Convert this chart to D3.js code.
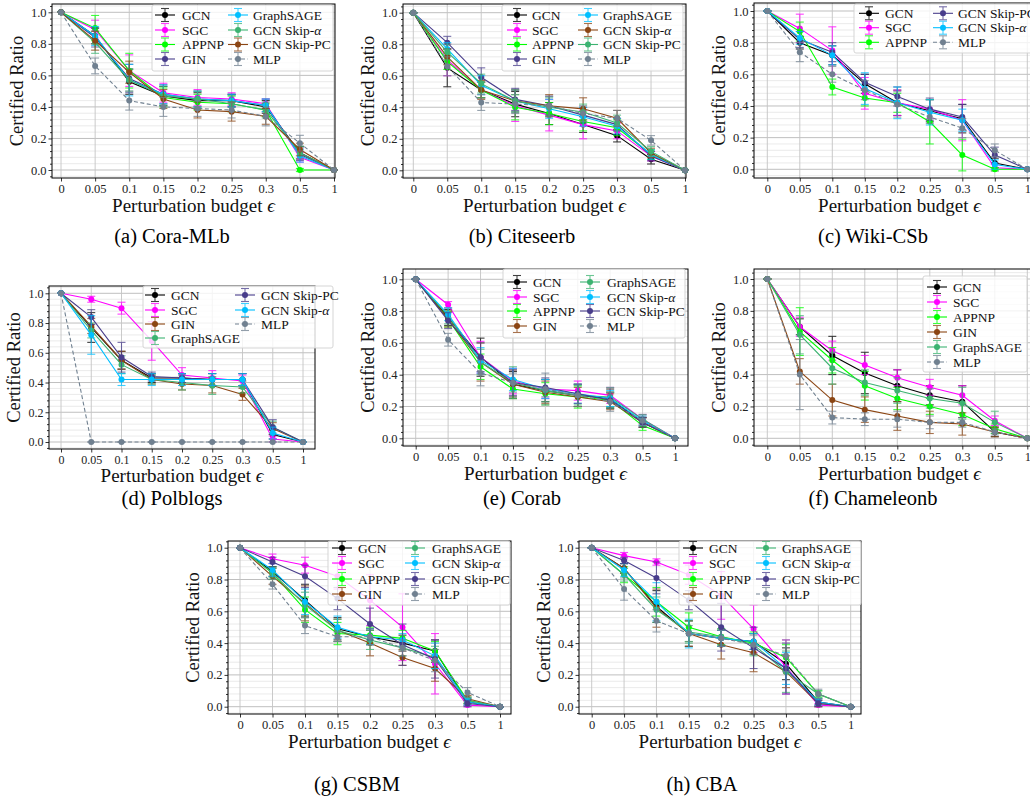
<!DOCTYPE html>
<html>
<head>
<meta charset="utf-8">
<script src="https://cdn.jsdelivr.net/npm/d3@7"></script>
<style>
  body { margin: 0; background: #fff; }
  svg { display: block; overflow: hidden; }
</style>
</head>
<body>
<script>
// x positions are categorical (equal spacing)
const xLabels = ["0", "0.05", "0.1", "0.15", "0.2", "0.25", "0.3", "0.5", "1"];
const yTicks = [0, 0.2, 0.4, 0.6, 0.8, 1.0];

// (a) Cora-MLb
const coraModels = ["GCN", "SGC", "APPNP", "GIN", "GraphSAGE", "GCN Skip-α", "GCN Skip-PC", "MLP"];
const coraMean = [
  [1, .85, .56, .47, .44, .44, .40, .11, 0],
  [1, .89, .63, .49, .46, .45, .42, .08, 0],
  [1, .90, .63, .46, .43, .42, .38, .00, 0],
  [1, .84, .58, .48, .45, .44, .41, .10, 0],
  [1, .85, .57, .48, .45, .44, .41, .09, 0],
  [1, .81, .57, .47, .45, .42, .38, .11, 0],
  [1, .82, .62, .45, .38, .37, .34, .13, 0],
  [1, .66, .44, .40, .39, .38, .34, .17, 0]
];
const coraErr = [
  [0, .05, .08, .06, .05, .04, .04, .04, 0],
  [0, .06, .10, .06, .05, .04, .03, .03, 0],
  [0, .08, .11, .06, .05, .05, .04, .01, 0],
  [0, .06, .09, .06, .05, .04, .04, .04, 0],
  [0, .06, .10, .06, .05, .04, .04, .04, 0],
  [0, .07, .07, .06, .05, .05, .05, .04, 0],
  [0, .06, .07, .06, .05, .06, .05, .04, 0],
  [0, .05, .06, .06, .05, .05, .06, .05, 0]
];

// (b) Citeseerb
const citeModels = ["GCN", "SGC", "APPNP", "GIN", "GraphSAGE", "GCN Skip-α", "GCN Skip-PC", "MLP"];
const citeMean = [
  [1, .65, .51, .42, .36, .29, .22, .07, 0],
  [1, .70, .51, .41, .35, .29, .25, .09, 0],
  [1, .69, .51, .40, .36, .31, .27, .10, 0],
  [1, .81, .59, .45, .41, .35, .29, .09, 0],
  [1, .77, .54, .44, .39, .34, .28, .10, 0],
  [1, .72, .51, .44, .41, .39, .33, .11, 0],
  [1, .75, .55, .44, .40, .37, .30, .12, 0],
  [1, .66, .43, .42, .41, .36, .33, .19, 0]
];
const citeErr = [
  [0, .12, .05, .08, .07, .05, .04, .03, 0],
  [0, .10, .05, .10, .10, .09, .05, .03, 0],
  [0, .05, .05, .08, .07, .06, .05, .03, 0],
  [0, .04, .06, .07, .06, .05, .04, .03, 0],
  [0, .04, .06, .07, .06, .06, .05, .03, 0],
  [0, .05, .06, .07, .07, .07, .05, .03, 0],
  [0, .05, .06, .07, .06, .05, .05, .03, 0],
  [0, .06, .05, .06, .06, .05, .05, .03, 0]
];

// (c) Wiki-CSb
const wikiModels = ["GCN", "SGC", "APPNP", "GCN Skip-PC", "GCN Skip-α", "MLP"];
const wikiMean = [
  [1, .80, .72, .54, .42, .37, .32, .04, 0],
  [1, .89, .75, .48, .42, .38, .31, .01, 0],
  [1, .87, .52, .45, .42, .30, .09, .00, 0],
  [1, .82, .74, .55, .46, .38, .33, .09, 0],
  [1, .83, .72, .51, .42, .36, .31, .03, 0],
  [1, .74, .60, .50, .41, .33, .26, .12, 0]
];
const wikiErr = [
  [0, .04, .06, .06, .08, .07, .09, .03, 0],
  [0, .09, .15, .10, .08, .06, .13, .02, 0],
  [0, .06, .05, .05, .06, .14, .10, .01, 0],
  [0, .05, .06, .05, .06, .07, .08, .05, 0],
  [0, .04, .06, .10, .10, .08, .07, .03, 0],
  [0, .06, .05, .06, .08, .04, .06, .04, 0]
];

// (d) Polblogs
const polModels = ["GCN", "SGC", "GIN", "GraphSAGE", "GCN Skip-PC", "GCN Skip-α", "MLP"];
const polMean = [
  [1, .77, .55, .43, .43, .42, .42, .05, 0],
  [1, .96, .90, .68, .45, .43, .41, .02, 0],
  [1, .78, .55, .42, .39, .38, .32, .09, 0],
  [1, .75, .52, .42, .40, .38, .37, .10, 0],
  [1, .84, .57, .44, .43, .42, .42, .10, 0],
  [1, .72, .42, .42, .42, .42, .42, .06, 0],
  [1, 0, 0, 0, 0, 0, 0, 0, 0]
];
const polErr = [
  [0, .10, .06, .03, .03, .04, .04, .03, 0],
  [0, .02, .04, .13, .05, .05, .04, .02, 0],
  [0, .05, .06, .03, .04, .05, .04, .04, 0],
  [0, .05, .06, .03, .05, .06, .04, .04, 0],
  [0, .05, .10, .03, .03, .04, .04, .05, 0],
  [0, .13, .04, .04, .04, .04, .04, .04, 0],
  [0, 0, 0, 0, 0, 0, 0, 0, 0]
];

// (e) Corab
const coraBModels = ["GCN", "SGC", "APPNP", "GIN", "GraphSAGE", "GCN Skip-α", "GCN Skip-PC", "MLP"];
const coraBMean = [
  [1, .76, .51, .34, .30, .27, .25, .10, 0],
  [1, .84, .51, .36, .31, .30, .27, .12, 0],
  [1, .75, .45, .31, .28, .26, .24, .08, 0],
  [1, .75, .48, .34, .29, .26, .23, .10, 0],
  [1, .77, .48, .35, .30, .27, .26, .12, 0],
  [1, .78, .49, .37, .31, .28, .25, .11, 0],
  [1, .74, .51, .35, .32, .28, .24, .10, 0],
  [1, .62, .41, .35, .31, .27, .23, .11, 0]
];
const coraBErr = [
  [0, .05, .12, .08, .07, .07, .06, .03, 0],
  [0, .02, .10, .08, .06, .06, .05, .03, 0],
  [0, .05, .08, .06, .07, .07, .05, .03, 0],
  [0, .05, .12, .09, .07, .06, .05, .03, 0],
  [0, .05, .08, .10, .07, .06, .06, .03, 0],
  [0, .04, .08, .07, .06, .06, .05, .03, 0],
  [0, .05, .09, .08, .06, .06, .05, .03, 0],
  [0, .04, .08, .06, .10, .07, .06, .03, 0]
];

// (f) Chameleonb
const chamModels = ["GCN", "SGC", "APPNP", "GIN", "GraphSAGE", "MLP"];
const chamMean = [
  [1, .70, .52, .41, .33, .27, .23, .04, 0],
  [1, .70, .55, .46, .38, .32, .27, .11, 0],
  [1, .67, .49, .33, .25, .20, .15, .06, 0],
  [1, .42, .24, .18, .14, .10, .09, .04, 0],
  [1, .65, .44, .35, .30, .25, .22, .10, 0],
  [1, .40, .13, .12, .12, .10, .10, .04, 0]
];
const chamErr = [
  [0, .05, .12, .13, .10, .06, .10, .03, 0],
  [0, .06, .06, .06, .05, .05, .06, .03, 0],
  [0, .15, .08, .09, .07, .05, .07, .03, 0],
  [0, .08, .10, .08, .09, .07, .07, .03, 0],
  [0, .12, .10, .08, .08, .06, .10, .07, 0],
  [0, .22, .04, .04, .05, .04, .03, .02, 0]
];

// (g) CSBM
const csbmModels = ["GCN", "SGC", "APPNP", "GIN", "GraphSAGE", "GCN Skip-α", "GCN Skip-PC", "MLP"];
const csbmMean = [
  [1, .85, .67, .49, .44, .40, .35, .03, 0],
  [1, .93, .89, .82, .67, .50, .27, .01, 0],
  [1, .84, .61, .46, .45, .43, .35, .04, 0],
  [1, .82, .65, .48, .40, .31, .24, .05, 0],
  [1, .84, .64, .48, .42, .37, .31, .04, 0],
  [1, .86, .66, .50, .44, .42, .32, .03, 0],
  [1, .91, .82, .68, .52, .39, .30, .02, 0],
  [1, .77, .51, .44, .44, .37, .29, .09, 0]
];
const csbmErr = [
  [0, .03, .10, .07, .05, .05, .07, .02, 0],
  [0, .03, .05, .08, .16, .21, .19, .01, 0],
  [0, .04, .08, .07, .05, .05, .06, .02, 0],
  [0, .05, .11, .07, .08, .05, .08, .02, 0],
  [0, .03, .08, .07, .06, .05, .07, .02, 0],
  [0, .04, .08, .07, .05, .04, .08, .02, 0],
  [0, .03, .07, .07, .10, .13, .12, .02, 0],
  [0, .03, .05, .03, .05, .05, .07, .03, 0]
];

// (h) CBA
const cbaModels = ["GCN", "SGC", "APPNP", "GIN", "GraphSAGE", "GCN Skip-α", "GCN Skip-PC", "MLP"];
const cbaMean = [
  [1, .87, .63, .46, .43, .41, .27, .03, 0],
  [1, .95, .91, .83, .70, .49, .25, .01, 0],
  [1, .83, .66, .50, .44, .40, .31, .08, 0],
  [1, .87, .62, .46, .39, .34, .22, .02, 0],
  [1, .83, .61, .47, .44, .39, .22, .08, 0],
  [1, .86, .66, .46, .43, .41, .24, .03, 0],
  [1, .92, .81, .67, .50, .37, .24, .02, 0],
  [1, .74, .54, .46, .43, .39, .32, .08, 0]
];
const cbaErr = [
  [0, .03, .10, .08, .05, .05, .10, .02, 0],
  [0, .02, .02, .06, .15, .15, .17, .01, 0],
  [0, .05, .09, .09, .05, .07, .08, .02, 0],
  [0, .03, .12, .08, .09, .12, .10, .02, 0],
  [0, .04, .08, .07, .05, .07, .13, .02, 0],
  [0, .04, .12, .09, .05, .05, .10, .02, 0],
  [0, .02, .10, .06, .15, .13, .16, .02, 0],
  [0, .07, .07, .05, .05, .06, .10, .03, 0]
];

// colours
const colorOf = {
  "GCN": "#000000", "SGC": "#ff00ff", "APPNP": "#00ff00", "GIN": "#8b4513",
  "GraphSAGE": "#3cb371", "GCN Skip-α": "#00bfff", "GCN Skip-PC": "#483d8b", "MLP": "#708090"
};

const panels = [
  { caption: "(a) Cora-MLb", models: coraModels, mean: coraMean, err: coraErr,
    colors: { "GIN": "#483d8b", "GraphSAGE": "#00bfff", "GCN Skip-α": "#3cb371", "GCN Skip-PC": "#8b4513" },
    frame: [52, 4, 335, 178], px: [61, 334], py: [170, 12.3],
    leg: { box: [152, 5, 333, 71], rows: [15, 30, 44.5, 59], mx: [165, 238], tx: [182, 253], n: 4 },
    xlab: 27.5, tick: 12.5, cap: [172, 243] },
  { caption: "(b) Citeseerb", models: citeModels, mean: citeMean, err: citeErr,
    colors: { "GIN": "#483d8b", "GraphSAGE": "#00bfff", "GCN Skip-α": "#8b4513", "GCN Skip-PC": "#3cb371" },
    frame: [403, 4, 686, 178], px: [413.3, 685], py: [170.3, 12.7],
    leg: { box: [502, 5, 683, 71], rows: [15, 30, 44.5, 59], mx: [517, 588], tx: [532, 603], n: 4 },
    xlab: 27.5, tick: 12.5, cap: [522, 243] },
  { caption: "(c) Wiki-CSb", models: wikiModels, mean: wikiMean, err: wikiErr, colors: {},
    frame: [754, 3, 1045, 178], px: [767.3, 1027.3], py: [169.3, 11],
    leg: { box: [854, 4, 1045, 53], rows: [13.3, 27.7, 42.3], mx: [869, 943], tx: [885, 958], n: 3 },
    xlab: 27.5, tick: 12.5, cap: [873, 243] },
  { caption: "(d) Polblogs", models: polModels, mean: polMean, err: polErr, colors: {},
    frame: [49, 286, 315, 449], px: [61, 303], py: [442, 293.3],
    leg: { box: [143, 286, 333, 348], rows: [295, 310, 324, 338], mx: [155, 245], tx: [171, 261], n: 4 },
    xlab: 26, tick: 12, cap: [172, 505] },
  { caption: "(e) Corab", models: coraBModels, mean: coraBMean, err: coraBErr, colors: {},
    frame: [403, 269, 688, 446], px: [415.7, 675], py: [438.3, 279.3],
    leg: { box: [503, 269, 685, 338], rows: [282, 297, 311, 326], mx: [517, 590], tx: [533, 607], n: 4 },
    xlab: 27, tick: 12.5, cap: [522, 505] },
  { caption: "(f) Chameleonb", models: chamModels, mean: chamMean, err: chamErr, colors: {},
    frame: [754, 269, 1045, 446], px: [767.3, 1027.3], py: [438.3, 279],
    leg: { box: [923, 276, 1027, 372], rows: [287, 302, 317, 332, 347, 362], mx: [937], tx: [953], n: 6 },
    xlab: 27, tick: 12.5, cap: [873, 505] },
  { caption: "(g) CSBM", models: csbmModels, mean: csbmMean, err: csbmErr, colors: {},
    frame: [228, 541, 511, 714], px: [240, 500], py: [706.7, 547.7],
    leg: { box: [328, 541, 510, 605], rows: [548, 563, 579, 594], mx: [342, 415], tx: [358, 432], n: 4 },
    xlab: 27.5, tick: 12.5, cap: [357, 791] },
  { caption: "(h) CBA", models: cbaModels, mean: cbaMean, err: cbaErr, colors: {},
    frame: [579, 541, 861, 714], px: [591.7, 850.7], py: [706.7, 547.7],
    leg: { box: [679, 541, 861, 605], rows: [548, 563, 579, 594], mx: [693, 766], tx: [709, 782], n: 4 },
    xlab: 27.5, tick: 12.5, cap: [702, 791] }
];

const W = 1030, H = 799;
const FONT = "'Liberation Serif','DejaVu Serif',serif";

const svg = d3.select("body").append("svg")
  .attr("width", W).attr("height", H)
  .style("font-family", FONT);
svg.append("rect").attr("width", W).attr("height", H).attr("fill", "#fff");

// text with an italic greek tail (alpha / epsilon)
function setLabel(sel, name) {
  const m = name.match(/^(.*)([αϵ])$/);
  if (m) {
    sel.append("tspan").text(m[1]);
    sel.append("tspan").attr("font-style", "italic").text(m[2]);
  } else {
    sel.text(name);
  }
}

panels.forEach(drawPanel);

function drawPanel(p) {
  const [L, T, R, B] = p.frame;
  const x = d3.scaleLinear().domain([0, xLabels.length - 1]).range(p.px);
  const y = d3.scaleLinear().domain([0, 1]).range(p.py);
  const col = name => p.colors[name] || colorOf[name];
  const g = svg.append("g");

  // minor y grid
  const lo = y.invert(B), hi = y.invert(T);
  const minor = d3.range(Math.ceil(lo / 0.04), Math.floor(hi / 0.04) + 1)
    .map(k => k * 0.04)
    .filter(v => Math.abs(v / 0.2 - Math.round(v / 0.2)) > 1e-6);
  g.selectAll(".mgrid").data(minor).enter().append("line")
    .attr("x1", L).attr("x2", R).attr("y1", d => y(d)).attr("y2", d => y(d))
    .attr("stroke", "#e4e4e4").attr("stroke-width", 0.8);
  // major grid
  g.selectAll(".ygrid").data(yTicks).enter().append("line")
    .attr("x1", L).attr("x2", R).attr("y1", d => y(d)).attr("y2", d => y(d))
    .attr("stroke", "#b8b8b8").attr("stroke-width", 0.9);
  g.selectAll(".xgrid").data(d3.range(xLabels.length)).enter().append("line")
    .attr("x1", d => x(d)).attr("x2", d => x(d)).attr("y1", T).attr("y2", B)
    .attr("stroke", "#c4c4c4").attr("stroke-width", 0.9);

  // axes
  const yAxis = g.append("g").attr("transform", `translate(${L},0)`)
    .call(d3.axisLeft(y).tickValues(yTicks).tickFormat(d3.format(".1f")).tickSize(3.5).tickPadding(2));
  const yMinor = g.append("g").attr("transform", `translate(${L},0)`)
    .call(d3.axisLeft(y).tickValues(minor).tickFormat("").tickSize(2));
  const xAxis = g.append("g").attr("transform", `translate(0,${B})`)
    .call(d3.axisBottom(x).tickValues(d3.range(xLabels.length)).tickFormat(i => xLabels[i]).tickSize(3.5).tickPadding(2.5));
  [yAxis, yMinor, xAxis].forEach(a => {
    a.select(".domain").remove();
    a.selectAll("line").attr("stroke", "#000").attr("stroke-width", 0.8);
    a.selectAll("text").attr("font-family", FONT).attr("font-size", p.tick).attr("fill", "#222");
  });

  // frame
  g.append("rect").attr("x", L).attr("y", T).attr("width", R - L).attr("height", B - T)
    .attr("fill", "none").attr("stroke", "#000").attr("stroke-width", 1);

  // series
  const line = d3.line().x((d, i) => x(i)).y(d => y(d));
  p.models.forEach((name, k) => {
    const c = col(name);
    const s = g.append("g");
    const dashed = name === "MLP";
    s.append("path").datum(p.mean[k]).attr("d", line)
      .attr("fill", "none").attr("stroke", c).attr("stroke-width", 1.1)
      .attr("stroke-dasharray", dashed ? "4,2.5" : null);
    const pts = p.mean[k].map((v, i) => ({ i, v, e: p.err[k][i] }));
    const eb = s.append("g").attr("stroke", c).attr("stroke-width", 1.1).attr("opacity", 0.75);
    eb.selectAll(".v").data(pts).enter().append("line")
      .attr("x1", d => x(d.i)).attr("x2", d => x(d.i))
      .attr("y1", d => y(d.v - d.e)).attr("y2", d => y(d.v + d.e));
    eb.selectAll(".ct").data(pts).enter().append("line")
      .attr("x1", d => x(d.i) - 4).attr("x2", d => x(d.i) + 4)
      .attr("y1", d => y(d.v + d.e)).attr("y2", d => y(d.v + d.e));
    eb.selectAll(".cb").data(pts).enter().append("line")
      .attr("x1", d => x(d.i) - 4).attr("x2", d => x(d.i) + 4)
      .attr("y1", d => y(d.v - d.e)).attr("y2", d => y(d.v - d.e));
    s.selectAll("circle").data(pts).enter().append("circle")
      .attr("cx", d => x(d.i)).attr("cy", d => y(d.v)).attr("r", 3)
      .attr("fill", c);
  });

  // legend
  const lg = p.leg;
  const [bx0, by0, bx1, by1] = lg.box;
  const leg = g.append("g");
  leg.append("rect").attr("x", bx0).attr("y", by0).attr("width", bx1 - bx0).attr("height", by1 - by0)
    .attr("rx", 2).attr("fill", "#fff").attr("fill-opacity", 0.8)
    .attr("stroke", "#d0d0d0").attr("stroke-width", 0.9);
  p.models.forEach((name, k) => {
    const c = col(name);
    const cx = lg.mx[Math.floor(k / lg.n)], tx = lg.tx[Math.floor(k / lg.n)];
    const cy = lg.rows[k % lg.n];
    const e = leg.append("g");
    e.append("line").attr("x1", cx - 10).attr("x2", cx + 10).attr("y1", cy).attr("y2", cy)
      .attr("stroke", c).attr("stroke-width", 1.1)
      .attr("stroke-dasharray", name === "MLP" ? "4,2.5" : null);
    const eb = e.append("g").attr("stroke", c).attr("stroke-width", 1.1).attr("opacity", 0.75);
    eb.append("line").attr("x1", cx).attr("x2", cx).attr("y1", cy - 6.5).attr("y2", cy + 6.5);
    eb.append("line").attr("x1", cx - 4).attr("x2", cx + 4).attr("y1", cy - 6.5).attr("y2", cy - 6.5);
    eb.append("line").attr("x1", cx - 4).attr("x2", cx + 4).attr("y1", cy + 6.5).attr("y2", cy + 6.5);
    e.append("circle").attr("cx", cx).attr("cy", cy).attr("r", 3).attr("fill", c);
    const t = e.append("text").attr("x", tx).attr("y", cy + 4.6)
      .attr("font-size", 13.5).attr("fill", "#111");
    setLabel(t, name);
  });

  // axis titles
  const yl = g.append("text")
    .attr("transform", `translate(${L - 35},${(T + B) / 2}) rotate(-90)`)
    .attr("text-anchor", "middle").attr("dy", "0.35em")
    .attr("font-size", 18.5).attr("fill", "#111");
  setLabel(yl, "Certified Ratio");
  const xl = g.append("text")
    .attr("x", (L + R) / 2).attr("y", B + p.xlab)
    .attr("text-anchor", "middle").attr("dy", "0.35em")
    .attr("font-size", 19).attr("fill", "#111");
  setLabel(xl, "Perturbation budget ϵ");

  // caption
  svg.append("text").attr("x", p.cap[0]).attr("y", p.cap[1])
    .attr("text-anchor", "middle").attr("font-size", 20.5).attr("fill", "#000")
    .text(p.caption);
}
</script>
</body>
</html>
